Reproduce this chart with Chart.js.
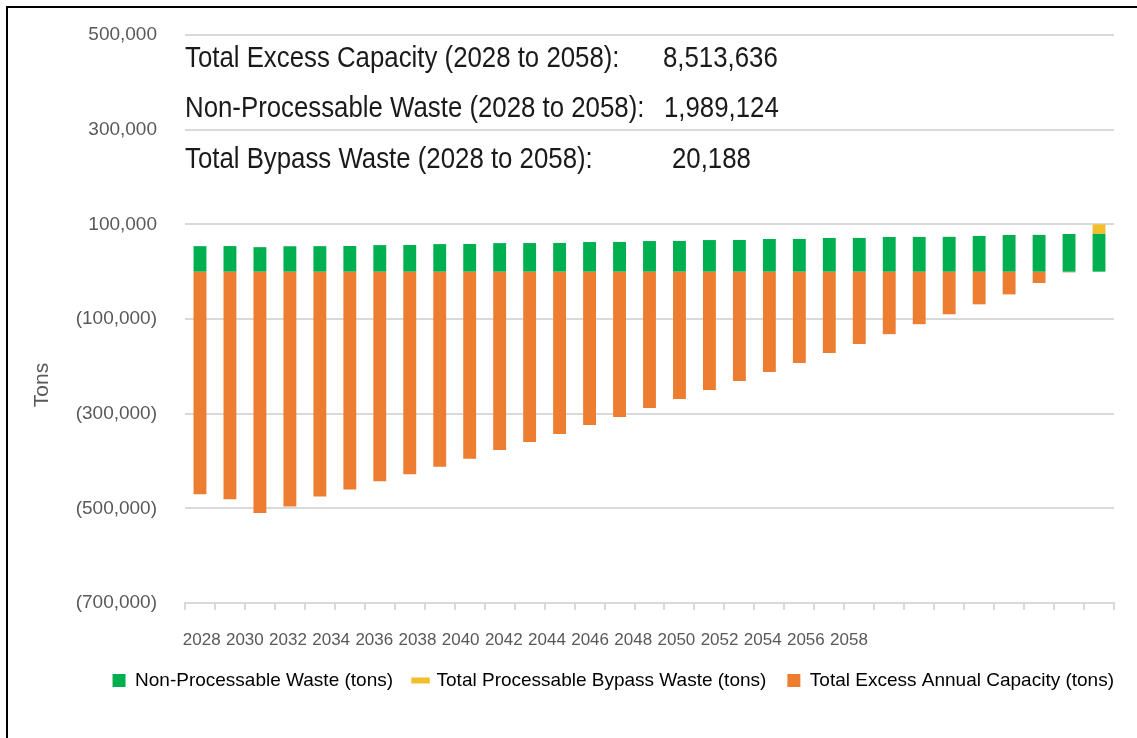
<!DOCTYPE html>
<html>
<head>
<meta charset="utf-8">
<script src="https://cdn.jsdelivr.net/npm/chart.js@4.4.1/dist/chart.umd.min.js"></script>
<style>
  html, body { margin: 0; padding: 0; overflow: hidden; background: #fff; }
  #wrap { position: relative; width: 1137px; height: 738px; }
  #frame { position: absolute; left: 6px; top: 6px; width: 1200px; height: 800px; border-left: 2px solid #000; border-top: 2px solid #000; }
  canvas { position: absolute; left: 0; top: 0; }
</style>
</head>
<body>
<div id="wrap">
  <canvas id="chart" width="1137" height="738"></canvas>
  <div id="frame"></div>
</div>
<script>
// Categorias (um ano por barra)
const years = ['2028','2029','2030','2031','2032','2033','2034','2035','2036','2037',
  '2038','2039','2040','2041','2042','2043','2044','2045','2046','2047',
  '2048','2049','2050','2051','2052','2053','2054','2055','2056','2057','2058'];

// Rótulos do eixo X (como aparecem no gráfico original)
const yearLabels = ['2028','2030','2032','2034','2036','2038','2040','2042',
  '2044','2046','2048','2050','2052','2054','2056','2058'];

// Séries (toneladas)
const nonProcessable = [53900, 54100, 51800, 53700, 53900, 54200, 56100, 56300, 58200, 58400,
  60300, 60500, 60700, 62600, 62800, 64700, 64900, 66800, 67000, 69000,
  69200, 71100, 71300, 73200, 73400, 73600, 75500, 77500, 77700, 79600, 79800];

const bypassWaste = [0, 0, 0, 0, 0, 0, 0, 0, 0, 0,
  0, 0, 0, 0, 0, 0, 0, 0, 0, 0,
  0, 0, 0, 0, 0, 0, 0, 0, 0, 0, 20188];

const excessCapacity = [-470000, -481000, -510000, -496000, -475000, -460000, -443000, -428000, -412000, -395000,
  -377000, -360000, -343000, -324000, -307000, -288000, -269000, -250000, -231000, -212000,
  -193000, -172000, -153000, -132000, -111000, -90000, -69000, -48000, -24000, -1500, 0];

// Caixa de texto com os totais
const summaryLabels = ['Total Excess Capacity (2028 to 2058):',
  'Non-Processable Waste (2028 to 2058):',
  'Total Bypass Waste (2028 to 2058):'];
const summaryValues = ['8,513,636', '1,989,124', '20,188'];

const seriesNames = ['Non-Processable Waste (tons)',
  'Total Processable Bypass Waste (tons)',
  'Total Excess Annual Capacity (tons)'];

const FONT = "'Liberation Sans', Arial, sans-serif";
const GRAY = '#595959';
const GRID = '#d9d9d9';

function fmtTons(v) {
  const s = Math.abs(v).toLocaleString('en-US');
  return v < 0 ? '(' + s + ')' : s;
}

// Plugin para a caixa de texto e o título do eixo Y
const overlayText = {
  id: 'overlayText',
  afterDraw(chart) {
    const ctx = chart.ctx;
    const squeeze = 0.86; // imita a fonte estreita do original
    ctx.save();
    ctx.fillStyle = '#1a1a1a';
    ctx.font = '30px ' + FONT;
    ctx.textBaseline = 'alphabetic';
    const baselines = [67, 117, 168];
    const valueX = [663, 664, 672];
    summaryLabels.forEach((t, i) => {
      ctx.save();
      ctx.scale(squeeze, 1);
      ctx.fillText(t, 185 / squeeze, baselines[i]);
      ctx.fillText(summaryValues[i], valueX[i] / squeeze, baselines[i]);
      ctx.restore();
    });
    ctx.fillStyle = GRAY;
    ctx.font = '21px ' + FONT;
    ctx.translate(42, 385);
    ctx.rotate(-Math.PI / 2);
    ctx.textAlign = 'center';
    ctx.textBaseline = 'middle';
    ctx.fillText('Tons', 0, 0);
    ctx.restore();
  }
};

const ctx = document.getElementById('chart').getContext('2d');

new Chart(ctx, {
  type: 'bar',
  data: {
    labels: years,
    datasets: [
      { label: seriesNames[0], data: nonProcessable, backgroundColor: '#00B050', stack: 's' },
      { label: seriesNames[1], data: bypassWaste, backgroundColor: '#F2BE2C', stack: 's' },
      { label: seriesNames[2], data: excessCapacity, backgroundColor: '#ED7D31', stack: 's' },
    ],
  },
  options: {
    responsive: false,
    animation: false,
    devicePixelRatio: 1,
    layout: { padding: { left: 30, right: 2, top: 35, bottom: 38 } },
    datasets: { bar: { categoryPercentage: 1, barPercentage: 0.43 } },
    plugins: {
      tooltip: { enabled: false },
      legend: {
        position: 'bottom',
        align: 'end',
        labels: {
          color: GRAY,
          font: { family: FONT, size: 19 },
          boxWidth: 13,
          boxHeight: 13,
          padding: 21,
          usePointStyle: true,
          generateLabels(chart) {
            return chart.data.datasets.map((ds, i) => ({
              text: ds.label,
              fillStyle: ds.backgroundColor,
              strokeStyle: ds.backgroundColor,
              lineWidth: i === 1 ? 6 : 0,
              pointStyle: i === 1 ? 'line' : 'rect',
              datasetIndex: i,
              hidden: false,
            }));
          },
        },
      },
    },
    scales: {
      x: {
        stacked: true,
        weight: 0,
        grid: { display: true, drawOnChartArea: false, drawTicks: true, tickLength: 7, color: GRID, lineWidth: 2 },
        border: { display: true, color: GRID, width: 2 },
        ticks: { display: false },
      },
      x2: {
        type: 'linear',
        position: 'bottom',
        weight: 1,
        offset: false,
        min: -0.387,
        max: 21.14,
        grid: { display: false, drawTicks: false, offset: false },
        border: { display: false },
        afterBuildTicks(axis) {
          axis.ticks = yearLabels.map((_, i) => ({ value: i }));
        },
        afterFit(axis) { axis.height = 40; },
        ticks: {
          autoSkip: false,
          maxRotation: 0,
          padding: 20,
          color: GRAY,
          font: { family: FONT, size: 17 },
          callback: (v) => yearLabels[v] ?? '',
        },
      },
      y: {
        stacked: true,
        min: -700000,
        max: 500000,
        afterFit(axis) { axis.width = 155; },
        // marcas invisíveis só para afastar os rótulos da área do gráfico
        grid: { color: GRID, lineWidth: 2, drawTicks: true, tickLength: 27, tickColor: 'rgba(0,0,0,0)' },
        border: { display: false },
        ticks: {
          stepSize: 200000,
          padding: 1,
          color: GRAY,
          font: { family: FONT, size: 19 },
          callback: (v) => fmtTons(v),
        },
      },
      // eixo vazio à direita: só reserva espaço para a área do gráfico
      yRight: {
        type: 'linear',
        position: 'right',
        display: true,
        grid: { display: false, drawTicks: false },
        border: { display: false },
        ticks: { display: false },
        afterFit(axis) { axis.width = 21; },
      },
    },
  },
  plugins: [overlayText],
});
</script>
</body>
</html>
